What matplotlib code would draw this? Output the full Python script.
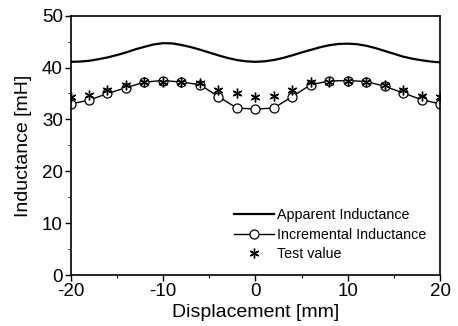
import matplotlib
matplotlib.use("Agg")
import matplotlib.pyplot as plt
from matplotlib.ticker import MultipleLocator

plt.rcParams['font.family'] = ['Liberation Sans', 'DejaVu Sans']
plt.rcParams['axes.unicode_minus'] = False

# Apparent inductance (1 mm steps)
x_app = list(range(-20, 21))
y_app = [41.1, 41.15, 41.3, 41.6, 41.95, 42.4, 42.9, 43.5, 44.0, 44.45, 44.7,
         44.65, 44.35, 43.95, 43.45, 42.9, 42.35, 41.85, 41.45, 41.2, 41.1,
         41.2, 41.45, 41.85, 42.35, 42.9, 43.4, 43.9, 44.3, 44.55, 44.6,
         44.5, 44.2, 43.75, 43.2, 42.65, 42.1, 41.7, 41.4, 41.15, 41.0]

# Incremental inductance and test values (2 mm steps)
x_pts = list(range(-20, 21, 2))
y_inc = [33.0, 33.7, 35.0, 36.1, 37.2, 37.5, 37.2, 36.7, 34.4, 32.2, 32.0,
         32.2, 34.4, 36.7, 37.4, 37.5, 37.3, 36.4, 35.1, 33.8, 33.0]
y_test = [34.3, 34.8, 35.7, 36.6, 37.3, 37.2, 37.2, 37.1, 35.7, 35.0, 34.3,
          34.6, 35.7, 37.2, 37.3, 37.5, 37.3, 36.6, 35.7, 34.6, 34.3]

labels = ["Apparent Inductance", "Incremental Inductance", "Test value"]

fig = plt.figure(figsize=(4.58, 3.26), dpi=100)
ax = fig.add_axes([0.154, 0.156, 0.807, 0.796])

ax.plot(x_app, y_app, color='black', lw=1.6, label=labels[0])
ax.plot(x_pts, y_inc, color='black', lw=1.0, marker='o', markersize=6.5,
        markerfacecolor='white', markeredgecolor='black', markeredgewidth=0.9,
        label=labels[1])
ax.plot(x_pts, y_test, linestyle='none', marker=(6, 2, 0), markersize=7,
        markeredgecolor='black', markeredgewidth=1.0, color='black',
        label=labels[2])

ax.set_xlim(-20, 20)
ax.set_ylim(0, 50)
ax.xaxis.set_major_locator(MultipleLocator(10))
ax.xaxis.set_minor_locator(MultipleLocator(5))
ax.yaxis.set_major_locator(MultipleLocator(10))
ax.yaxis.set_minor_locator(MultipleLocator(5))
ax.tick_params(which='major', direction='out', length=4, width=1.0,
               labelsize=13.5, pad=1.5)
ax.tick_params(which='minor', direction='out', length=2, width=0.8)
for s in ax.spines.values():
    s.set_linewidth(1.2)

ax.set_xlabel("Displacement [mm]", fontsize=14, labelpad=3)
ax.set_ylabel("Inductance [mH]", fontsize=14, labelpad=7)

leg = ax.legend(loc='lower right', bbox_to_anchor=(0.985, 0.02), frameon=False,
                fontsize=10.3, handlelength=2.8, handletextpad=0.2,
                labelspacing=0.4, borderaxespad=0.2)

fig.savefig("out.png", dpi=100)
